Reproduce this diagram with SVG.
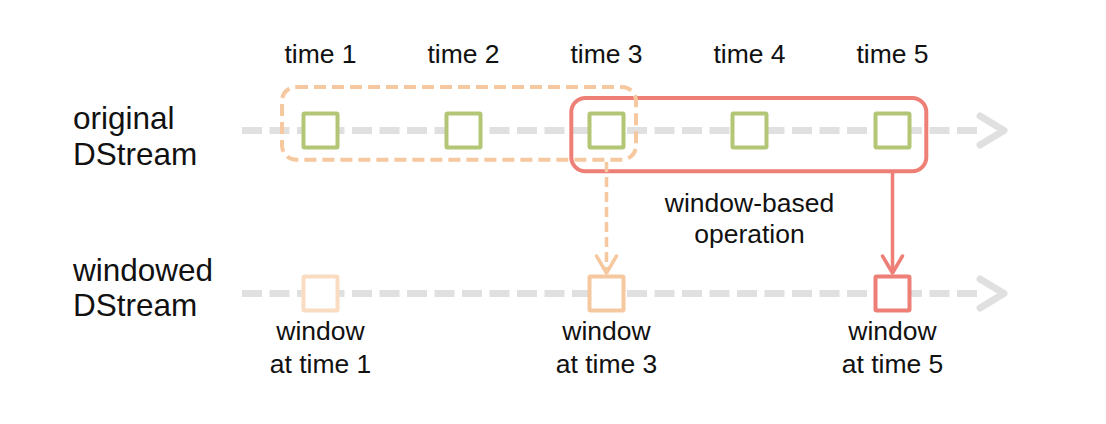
<svg xmlns="http://www.w3.org/2000/svg" width="1106" height="424" viewBox="0 0 1106 424">
<style>
text{font-family:"Liberation Sans",Arial,sans-serif;fill:#111}
.lbl{font-size:26.5px;text-anchor:middle}
.side{font-size:31.5px}
.axis{fill:none;stroke:#e0e0e0;stroke-width:7}
.chev{fill:none;stroke:#e0e0e0;stroke-width:7;stroke-linecap:round;stroke-linejoin:round}
.g{fill:#fff;stroke:#b3c675;stroke-width:4}
.w1{fill:#fff;stroke:#fadcc3;stroke-width:4}
.w3{fill:#fff;stroke:#f6c8a0;stroke-width:4}
.w5{fill:#fff;stroke:#ee7f76;stroke-width:4}
</style>
<rect width="1106" height="424" fill="#fff"/>
<g id="axes">
<line class="axis" x1="242" y1="130.5" x2="980" y2="130.5" stroke-dasharray="20 7.5"/>
<polyline class="chev" points="980,116 1004,130.5 980,145"/>
<line class="axis" x1="242" y1="293.5" x2="980" y2="293.5" stroke-dasharray="20 7.5"/>
<polyline class="chev" points="980,279 1004,293.5 980,308"/>
</g>
<g id="time-labels">
<text class="lbl" x="320.5" y="63">time 1</text>
<text class="lbl" x="463.5" y="63">time 2</text>
<text class="lbl" x="606.5" y="63">time 3</text>
<text class="lbl" x="749.5" y="63">time 4</text>
<text class="lbl" x="892.5" y="63">time 5</text>
</g>
<g id="label-original">
<text class="side" x="73" y="129">original</text>
<text class="side" x="73" y="165">DStream</text>
</g>
<g id="label-windowed">
<text class="side" x="73" y="281">windowed</text>
<text class="side" x="73" y="316">DStream</text>
</g>
<g id="window-op">
<rect x="571.3" y="98" width="355" height="73.3" rx="14" fill="none" stroke="#ee7f76" stroke-width="4"/>
<text class="lbl" x="749.5" y="212">window-based</text>
<text class="lbl" x="749.5" y="243">operation</text>
</g>
<g id="window-prev">
<rect x="282" y="87" width="354" height="72.7" rx="14" fill="none" stroke="#f6c8a0" stroke-width="4" stroke-dasharray="12 6"/>
</g>
<g id="connectors">
<line x1="606.5" y1="162" x2="606.5" y2="272" stroke="#f6c8a0" stroke-width="3.5" stroke-dasharray="10 5"/>
<polyline points="596.5,256 606.5,273 616.5,256" fill="none" stroke="#f6c8a0" stroke-width="3.5" stroke-linecap="round" stroke-linejoin="round"/>
<line x1="892.5" y1="173" x2="892.5" y2="272" stroke="#ee7f76" stroke-width="3.5"/>
<polyline points="882.5,256 892.5,273 902.5,256" fill="none" stroke="#ee7f76" stroke-width="3.5" stroke-linecap="round" stroke-linejoin="round"/>
</g>
<g id="rdd-t1"><rect class="g" x="303.5" y="113.5" width="34" height="34" rx="1"/></g>
<g id="rdd-t2"><rect class="g" x="446.5" y="113.5" width="34" height="34" rx="1"/></g>
<g id="rdd-t3"><rect class="g" x="589.5" y="113.5" width="34" height="34" rx="1"/></g>
<g id="rdd-t4"><rect class="g" x="732.5" y="113.5" width="34" height="34" rx="1"/></g>
<g id="rdd-t5"><rect class="g" x="875.5" y="113.5" width="34" height="34" rx="1"/></g>
<g id="win-t1">
<rect class="w1" x="303.5" y="276.5" width="34" height="34" rx="1"/>
<text class="lbl" x="320.5" y="340">window</text>
<text class="lbl" x="320.5" y="373">at time 1</text>
</g>
<g id="win-t3">
<rect class="w3" x="589.5" y="276.5" width="34" height="34" rx="1"/>
<text class="lbl" x="606.5" y="340">window</text>
<text class="lbl" x="606.5" y="373">at time 3</text>
</g>
<g id="win-t5">
<rect class="w5" x="875.5" y="276.5" width="34" height="34" rx="1"/>
<text class="lbl" x="892.5" y="340">window</text>
<text class="lbl" x="892.5" y="373">at time 5</text>
</g>
</svg>
